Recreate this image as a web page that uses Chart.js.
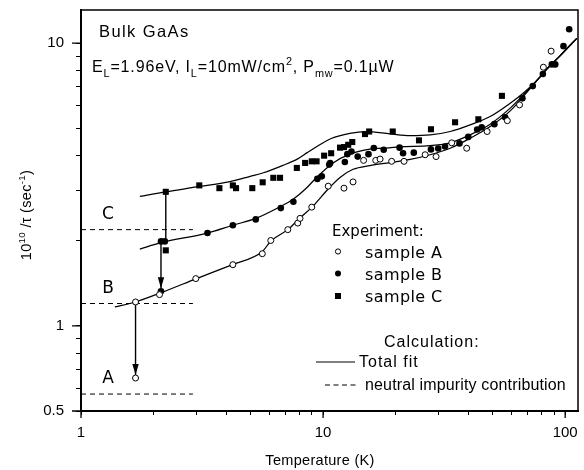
<!DOCTYPE html>
<html>
<head>
<meta charset="utf-8">
<script src="https://cdn.jsdelivr.net/npm/chart.js@4.4.1/dist/chart.umd.min.js"></script>
<style>
  html, body { margin: 0; padding: 0; background: #fff; }
</style>
</head>
<body>
<canvas id="chart" width="584" height="470"></canvas>
<script>
// [temperature (K), 1e10/tau (1/s)]
const sampleA = [
  [1.68, 0.654], [1.68, 1.215], [2.11, 1.29], [2.98, 1.47], [4.24, 1.646], [5.61, 1.80],
  [6.08, 2.005], [7.15, 2.19], [7.86, 2.31], [8.03, 2.40], [8.98, 2.63], [10.5, 3.12],
  [12.2, 3.07], [13.3, 3.23], [14.7, 3.85], [16.5, 3.85], [17.2, 3.89], [19.2, 3.82],
  [21.6, 3.82], [26.4, 4.03], [29.3, 3.97], [34.0, 4.44], [39.2, 4.25], [47.6, 4.87],
  [57.7, 5.32], [64.8, 6.05], [81.3, 8.22], [87.5, 9.37]
];
const sampleB = [
  [2.14, 1.325], [2.14, 1.99], [2.22, 1.99], [3.33, 2.13], [4.24, 2.27], [5.27, 2.38],
  [6.69, 2.61], [7.54, 2.75], [9.47, 3.31], [9.88, 3.38], [10.6, 3.72], [10.7, 3.77],
  [12.3, 3.80], [12.6, 4.05], [13.1, 4.14], [13.9, 3.97], [15.4, 4.05], [16.2, 4.26],
  [17.8, 4.20], [20.7, 4.27], [21.4, 4.08], [23.7, 4.10], [27.9, 4.21], [29.9, 4.24],
  [31.9, 4.31], [36.6, 4.42], [39.8, 4.66], [43.3, 4.95], [45.2, 5.04], [51.0, 5.17],
  [56.5, 5.47], [66.6, 6.38], [73.5, 7.05], [80.9, 7.78], [88.1, 8.41], [91.0, 8.41],
  [98.4, 9.76], [103.9, 11.2]
];
const sampleC = [
  [2.24, 2.98], [2.24, 1.85], [3.08, 3.14], [3.73, 3.07], [4.24, 3.14], [4.37, 3.07],
  [5.10, 3.07], [5.63, 3.22], [6.23, 3.34], [6.64, 3.34], [7.79, 3.62], [8.43, 3.77],
  [8.98, 3.82], [9.4, 3.82], [10.1, 4.0], [10.8, 4.08], [11.75, 4.27], [12.2, 4.29],
  [12.7, 4.37], [13.2, 4.47], [14.9, 4.77], [15.5, 4.87], [19.4, 4.87], [24.9, 4.53],
  [27.9, 4.96], [35.1, 5.25], [43.8, 5.38], [54.8, 6.51]
];

// calculated total fits
const fitA = [
  [1.38, 1.167], [1.68, 1.215], [2.14, 1.31], [3.0, 1.47], [4.24, 1.65], [5.6, 1.83],
  [6.1, 2.0], [7.15, 2.19], [8.0, 2.4], [9.0, 2.63], [10.5, 3.05], [11.75, 3.35],
  [13.3, 3.58], [15.6, 3.69], [18.9, 3.78], [22.9, 3.88], [27.7, 4.03], [33.5, 4.25],
  [40.5, 4.61], [49.0, 5.07], [59.3, 5.76], [69.5, 6.7], [78.8, 7.6], [84.0, 8.1],
  [95.0, 9.0], [111.7, 10.4]
];
const fitB = [
  [1.75, 1.87], [2.14, 1.97], [3.33, 2.13], [4.24, 2.27], [5.27, 2.4], [6.64, 2.64],
  [7.5, 2.8], [8.5, 3.06], [9.4, 3.35], [11.0, 3.77], [12.9, 4.05], [15.6, 4.22],
  [17.8, 4.25], [20.8, 4.30], [27.7, 4.34], [33.5, 4.44], [40.5, 4.74], [49.0, 5.17],
  [59.3, 5.89], [69.5, 6.76], [78.8, 7.6], [84.0, 8.1], [95.0, 9.0], [111.7, 10.4]
];
const fitC = [
  [1.75, 2.87], [2.24, 2.98], [3.0, 3.1], [4.13, 3.24], [5.0, 3.38], [5.67, 3.48],
  [6.85, 3.70], [7.79, 3.88], [8.6, 4.1], [9.4, 4.3], [10.8, 4.6], [12.9, 4.80],
  [15.1, 4.87], [18.9, 4.78], [22.9, 4.71], [27.7, 4.74], [33.5, 4.87], [40.5, 5.14],
  [49.0, 5.5], [59.3, 6.13], [69.5, 6.83], [78.8, 7.6], [84.0, 8.1], [95.0, 9.0],
  [111.7, 10.4]
];

// neutral impurity contribution levels and the T range they are drawn over
const neutralLevels = [2.19, 1.20, 0.574];
const neutralLetters = ['C', 'B', 'A'];
const neutralRange = [1, 2.9];

// vertical arrows: [T, from, to]
const arrowLines = [
  [2.24, 2.98, 2.0],
  [2.14, 1.99, 1.36],
  [1.68, 1.215, 0.67]
];

const xTicks = [1, 2, 3, 4, 5, 6, 7, 8, 9, 10, 20, 30, 40, 50, 60, 70, 80, 90, 100];
const yTicks = [0.5, 0.6, 0.7, 0.8, 0.9, 1, 2, 3, 4, 5, 6, 7, 8, 9, 10];
const xTickLabels = [1, 10, 100];
const yTickLabels = [0.5, 1, 10];

const SANS = "'Liberation Sans', Arial, sans-serif";
const ROUND = "'DejaVu Sans', sans-serif";

const toPts = arr => arr.map(([x, y]) => ({ x, y }));

function curve(data) {
  return {
    data: toPts(data), showLine: true, borderColor: '#000', borderWidth: 1.25,
    pointRadius: 0, cubicInterpolationMode: 'monotone', order: 3
  };
}

function straight(data, dash, width) {
  return {
    data: toPts(data), showLine: true, borderColor: '#000', borderWidth: width,
    borderDash: dash, pointRadius: 0, order: 2
  };
}

const datasets = [
  { data: toPts(sampleA), pointStyle: 'circle', pointRadius: 3, borderWidth: 1,
    borderColor: '#000', backgroundColor: '#fff', order: 0 },
  { data: toPts(sampleB), pointStyle: 'circle', pointRadius: 3.3, borderWidth: 0,
    backgroundColor: '#000', order: 1 },
  { data: toPts(sampleC), pointStyle: 'rect', pointRadius: 4.3, borderWidth: 0,
    backgroundColor: '#000', order: 1 },
  curve(fitA), curve(fitB), curve(fitC)
];
neutralLevels.forEach(v => {
  datasets.push(straight([[neutralRange[0], v], [neutralRange[1], v]], [5, 4], 1));
});
arrowLines.forEach(([t, a, b]) => {
  datasets.push(straight([[t, a], [t, b]], [], 1.4));
});

function put(ctx, str, x, y, size, opts = {}) {
  ctx.save();
  ctx.font = size + 'px ' + (opts.family || SANS);
  ctx.letterSpacing = (opts.ls || 0) + 'px';
  ctx.textAlign = opts.align || 'left';
  ctx.textBaseline = opts.base || 'alphabetic';
  ctx.fillStyle = '#000';
  if (!opts.dry) ctx.fillText(str, x, y);
  const w = ctx.measureText(str).width;
  ctx.restore();
  return w;
}

// text with sub/superscript runs
function rich(ctx, parts, x, y, size, ls, dry) {
  let cx = x;
  parts.forEach(([t, k]) => {
    const s = k ? size * 0.68 : size;
    const dy = k === 'sub' ? size * 0.3 : k === 'sup' ? -size * 0.42 : 0;
    cx += put(ctx, t, cx, y + dy, s, { ls, dry });
  });
  return cx - x;
}

const decorations = {
  id: 'decorations',
  afterDatasetsDraw(chart) {
    const { ctx, scales: { x, y } } = chart;
    // arrow heads on the last two arrows
    arrowLines.forEach(([t, a, b], i) => {
      if (i === 0) return;
      const px = x.getPixelForValue(t);
      const py = y.getPixelForValue(b);
      ctx.save();
      ctx.fillStyle = '#000';
      ctx.beginPath();
      ctx.moveTo(px, py);
      ctx.lineTo(px - 3.2, py - 11);
      ctx.lineTo(px + 3.2, py - 11);
      ctx.closePath();
      ctx.fill();
      ctx.restore();
    });
  },
  afterDraw(chart) {
    const { ctx, chartArea: a, scales: { x, y } } = chart;
    ctx.save();
    ctx.strokeStyle = '#000';
    ctx.lineWidth = 1.5;
    ctx.beginPath();
    ctx.moveTo(a.left, a.top);
    ctx.lineTo(a.right, a.top);
    ctx.lineTo(a.right, a.bottom);
    ctx.stroke();

    // longer ticks at the decades
    ctx.lineWidth = 1.3;
    ctx.beginPath();
    xTickLabels.forEach(v => {
      const px = x.getPixelForValue(v);
      ctx.moveTo(px, a.bottom);
      ctx.lineTo(px, a.bottom + 7);
    });
    yTickLabels.forEach(v => {
      const py = y.getPixelForValue(v);
      ctx.moveTo(a.left - 9, py);
      ctx.lineTo(a.left, py);
    });
    ctx.stroke();
    ctx.restore();

    // header
    put(ctx, 'Bulk GaAs', 99, 37, 16.5, { ls: 1.4 });
    rich(ctx, [['E', ''], ['L', 'sub'], ['=1.96eV, I', ''], ['L', 'sub'], ['=10mW/cm', ''],
      ['2', 'sup'], [', P', ''], ['mw', 'sub'], ['=0.1\u00b5W', '']], 92, 72, 16, 0.85);

    // A / B / C markers of the neutral levels
    neutralLevels.forEach((v, i) => {
      put(ctx, neutralLetters[i], 108, y.getPixelForValue(v) - 11, 17,
        { family: ROUND, align: 'center' });
    });

    // key for the experimental points
    put(ctx, 'Experiment:', 332, 236, 15, { family: ROUND });
    const rows = [['sample A', 251.5], ['sample B', 273.5], ['sample C', 296]];
    rows.forEach(([label, ry], i) => {
      ctx.save();
      ctx.fillStyle = '#000';
      ctx.strokeStyle = '#000';
      ctx.lineWidth = 1;
      ctx.beginPath();
      if (i === 0) {
        ctx.arc(338, ry, 2.6, 0, Math.PI * 2);
        ctx.stroke();
      } else if (i === 1) {
        ctx.arc(338, ry, 3, 0, Math.PI * 2);
        ctx.fill();
      } else {
        ctx.fillRect(335, ry - 3, 6, 6);
      }
      ctx.restore();
      put(ctx, label, 365, ry + 6, 16, { family: ROUND, ls: 0.4 });
    });

    // key for the calculation
    put(ctx, 'Calculation:', 384, 347, 16, { ls: 1 });
    ctx.save();
    ctx.strokeStyle = '#000';
    ctx.lineWidth = 1.1;
    ctx.beginPath();
    ctx.moveTo(316, 362);
    ctx.lineTo(355, 362);
    ctx.stroke();
    ctx.setLineDash([5, 3.5]);
    ctx.beginPath();
    ctx.moveTo(325, 385);
    ctx.lineTo(356, 385);
    ctx.stroke();
    ctx.restore();
    put(ctx, 'Total fit', 359, 367, 16, { ls: 1 });
    put(ctx, 'neutral impurity contribution', 365, 390, 16, { ls: 0.15 });

    // axis titles
    put(ctx, 'Temperature (K)', 320, 465, 14.5, { align: 'center', ls: 0.3 });
    const yParts = [['10', ''], ['10', 'sup'], [' /\u03c4 (sec', ''], ['-1', 'sup'], [')', '']];
    const w = rich(ctx, yParts, 0, 0, 14.5, 0.3, true);
    ctx.save();
    ctx.translate(31, 215);
    ctx.rotate(-Math.PI / 2);
    rich(ctx, yParts, -w / 2, 0, 14.5, 0.3);
    ctx.restore();
  }
};

new Chart(document.getElementById('chart'), {
  type: 'scatter',
  data: { datasets },
  options: {
    responsive: false,
    animation: false,
    layout: { padding: { top: 10, right: 6, left: 0, bottom: 0 } },
    plugins: { legend: { display: false }, tooltip: { enabled: false } },
    scales: {
      x: {
        type: 'logarithmic', min: 1, max: 113,
        afterBuildTicks: s => { s.ticks = xTicks.map(v => ({ value: v })); },
        afterFit: s => { s.height = 59; s.paddingLeft = 0; s.paddingRight = 0; },
        grid: { drawOnChartArea: false, color: '#000', tickLength: 4, tickWidth: 1 },
        border: { color: '#000', width: 2 },
        ticks: {
          color: '#000', font: { size: 15, family: SANS }, padding: 9,
          autoSkip: false, maxRotation: 0,
          callback: v => (xTickLabels.includes(v) ? String(v) : '')
        }
      },
      y: {
        type: 'logarithmic', min: 0.5, max: 13.1,
        afterBuildTicks: s => { s.ticks = yTicks.map(v => ({ value: v })); },
        afterFit: s => { s.width = 81; s.paddingTop = 0; s.paddingBottom = 0; },
        grid: { drawOnChartArea: false, color: '#000', tickLength: 5, tickWidth: 1 },
        border: { color: '#000', width: 2 },
        ticks: {
          color: '#000', font: { size: 15, family: SANS }, padding: 12,
          autoSkip: false,
          callback: v => (yTickLabels.includes(v) ? String(v) : '')
        }
      }
    }
  },
  plugins: [decorations]
});
</script>
</body>
</html>
